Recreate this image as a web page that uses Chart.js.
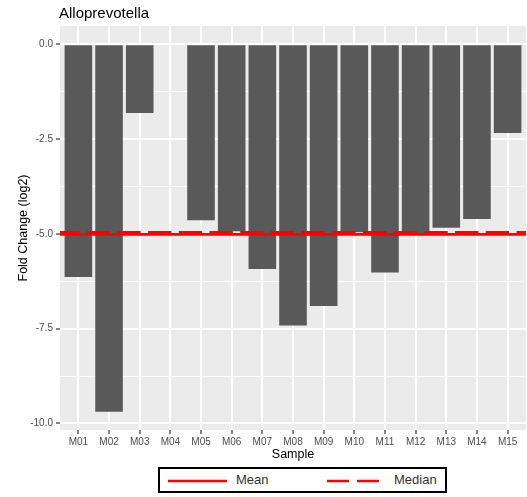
<!DOCTYPE html>
<html>
<head>
<meta charset="utf-8">
<title>Alloprevotella</title>
<script src="https://cdn.jsdelivr.net/npm/chart.js@4/dist/chart.umd.min.js"></script>
<style>
  html, body { margin: 0; padding: 0; background: #ffffff; }
  #wrap { position: relative; width: 527px; height: 497px; font-family: Arial, "Liberation Sans", sans-serif; }
  #chart { position: absolute; left: 0; top: 0; }
  #title { position: absolute; left: 59px; top: 4px; font-size: 15px; line-height: 18px; color: #000000; white-space: nowrap; }
  #legend { position: absolute; left: 158px; top: 467px; width: 289px; height: 26px; box-sizing: border-box; border: 2px solid #000000; background: #ffffff; }
  #legend svg { position: absolute; left: 0; top: 0; }
  #legend span { position: absolute; top: 0; font-size: 13px; line-height: 22px; color: #333333; white-space: nowrap; }
</style>
</head>
<body>
<div id="wrap">
  <canvas id="chart" width="527" height="497"></canvas>
  <div id="title">Alloprevotella</div>
  <div id="legend">
    <svg width="285" height="22" viewBox="0 0 285 22">
      <line x1="8" y1="12" x2="67" y2="12" stroke="#FF0000" stroke-width="2.7"/>
      <line x1="167" y1="12" x2="219" y2="12" stroke="#FF0000" stroke-width="2.7" stroke-dasharray="22 8"/>
    </svg>
    <span style="left:76px">Mean</span>
    <span style="left:234px">Median</span>
  </div>
</div>
<script>
// Samples and their log2 fold change
const sampleLabels = ['M01', 'M02', 'M03', 'M04', 'M05', 'M06', 'M07', 'M08',
                      'M09', 'M10', 'M11', 'M12', 'M13', 'M14', 'M15'];
const foldChange = [-6.14, -9.69, -1.81, 0, -4.64, -4.93, -5.93, -7.42,
                    -6.90, -4.96, -6.02, -4.98, -4.84, -4.61, -2.34];
// Labelled (major) y ticks
const yTickValues = [0, -2.5, -5, -7.5, -10];

const FONT = 'Arial, "Liberation Sans", sans-serif';

// Summary statistics shown as reference lines
const meanFC = foldChange.reduce((s, v) => s + v, 0) / foldChange.length;
const sortedFC = [...foldChange].sort((a, b) => a - b);
const mid = Math.floor(sortedFC.length / 2);
const medianFC = sortedFC.length % 2 ? sortedFC[mid] : (sortedFC[mid - 1] + sortedFC[mid]) / 2;

// Axis ranges padded like ggplot: 5% on continuous y, 0.6 units on discrete x
const yLow = Math.min(0, ...foldChange), yHigh = Math.max(0, ...foldChange);
const yPad = (yHigh - yLow) * 0.05;
const yMin = yLow - yPad, yMax = yHigh + yPad;
const xMin = 1 - 0.6, xMax = sampleLabels.length + 0.6;

// Minor gridlines halfway between the labelled ticks
const yMinorValues = yTickValues.slice(1).map((v, i) => (v + yTickValues[i]) / 2);
const isMajor = v => yTickValues.some(t => Math.abs(t - v) < 1e-9);

const panelBackground = {
  id: 'panelBackground',
  beforeDraw(chart) {
    const { ctx, chartArea: a } = chart;
    ctx.save();
    ctx.fillStyle = '#EBEBEB';
    ctx.fillRect(a.left, a.top, a.right - a.left, a.bottom - a.top);
    ctx.restore();
  }
};

new Chart(document.getElementById('chart'), {
  type: 'bar',
  data: {
    datasets: [
      {
        type: 'line',
        label: 'Median',
        data: [{ x: xMin, y: medianFC }, { x: xMax, y: medianFC }],
        borderColor: '#FF0000',
        borderWidth: 2.7,
        borderDash: [23.3, 7.4],
        borderDashOffset: 4,
        pointRadius: 0,
        fill: false,
        order: 1
      },
      {
        type: 'line',
        label: 'Mean',
        data: [{ x: xMin, y: meanFC }, { x: xMax, y: meanFC }],
        borderColor: '#FF0000',
        borderWidth: 2.7,
        pointRadius: 0,
        fill: false,
        order: 2
      },
      {
        type: 'bar',
        label: 'Fold Change',
        data: foldChange.map((v, i) => ({ x: i + 1, y: v })),
        backgroundColor: '#595959',
        borderWidth: 0,
        barPercentage: 0.9,
        categoryPercentage: 1.0,
        order: 3
      }
    ]
  },
  options: {
    responsive: false,
    animation: false,
    devicePixelRatio: 1,
    layout: { padding: { top: 26, left: 0, right: 1, bottom: 35 } },
    plugins: {
      legend: { display: false },
      tooltip: { enabled: false },
      title: { display: false }
    },
    scales: {
      x: {
        type: 'linear',
        min: xMin,
        max: xMax,
        offset: false,
        bounds: 'data',
        afterBuildTicks: scale => {
          scale.ticks = sampleLabels.map((_, i) => ({ value: i + 1 }));
        },
        afterFit: scale => { scale.height = 32; },
        ticks: {
          autoSkip: false,
          maxRotation: 0,
          padding: 2,
          color: '#4D4D4D',
          font: { family: FONT, size: 10 },
          callback: v => sampleLabels[Math.round(v) - 1] || ''
        },
        grid: {
          offset: false,
          color: '#FFFFFF',
          lineWidth: 2,
          drawTicks: true,
          tickLength: 4,
          tickColor: '#333333',
          tickWidth: 1.2
        },
        border: { display: false },
        title: {
          display: true,
          text: 'Sample',
          color: '#000000',
          padding: 0,
          font: { family: FONT, size: 12.5 }
        }
      },
      y: {
        type: 'linear',
        min: yMin,
        max: yMax,
        afterBuildTicks: scale => {
          scale.ticks = [...yTickValues, ...yMinorValues]
            .sort((a, b) => a - b)
            .map(v => ({ value: v }));
        },
        afterFit: scale => { scale.width = 60; },
        ticks: {
          autoSkip: false,
          padding: 3,
          color: '#4D4D4D',
          font: { family: FONT, size: 10 },
          callback: v => isMajor(v) ? v.toFixed(1) : ''
        },
        grid: {
          color: '#FFFFFF',
          lineWidth: c => isMajor(c.tick.value) ? 2 : 1,
          drawTicks: true,
          tickLength: 4,
          tickColor: c => isMajor(c.tick.value) ? '#333333' : 'rgba(0,0,0,0)',
          tickWidth: 1.2
        },
        border: { display: false },
        title: {
          display: true,
          text: 'Fold Change (log2)',
          color: '#000000',
          padding: { top: 16, bottom: 0 },
          font: { family: FONT, size: 12.5 }
        }
      }
    }
  },
  plugins: [panelBackground]
});
</script>
</body>
</html>
